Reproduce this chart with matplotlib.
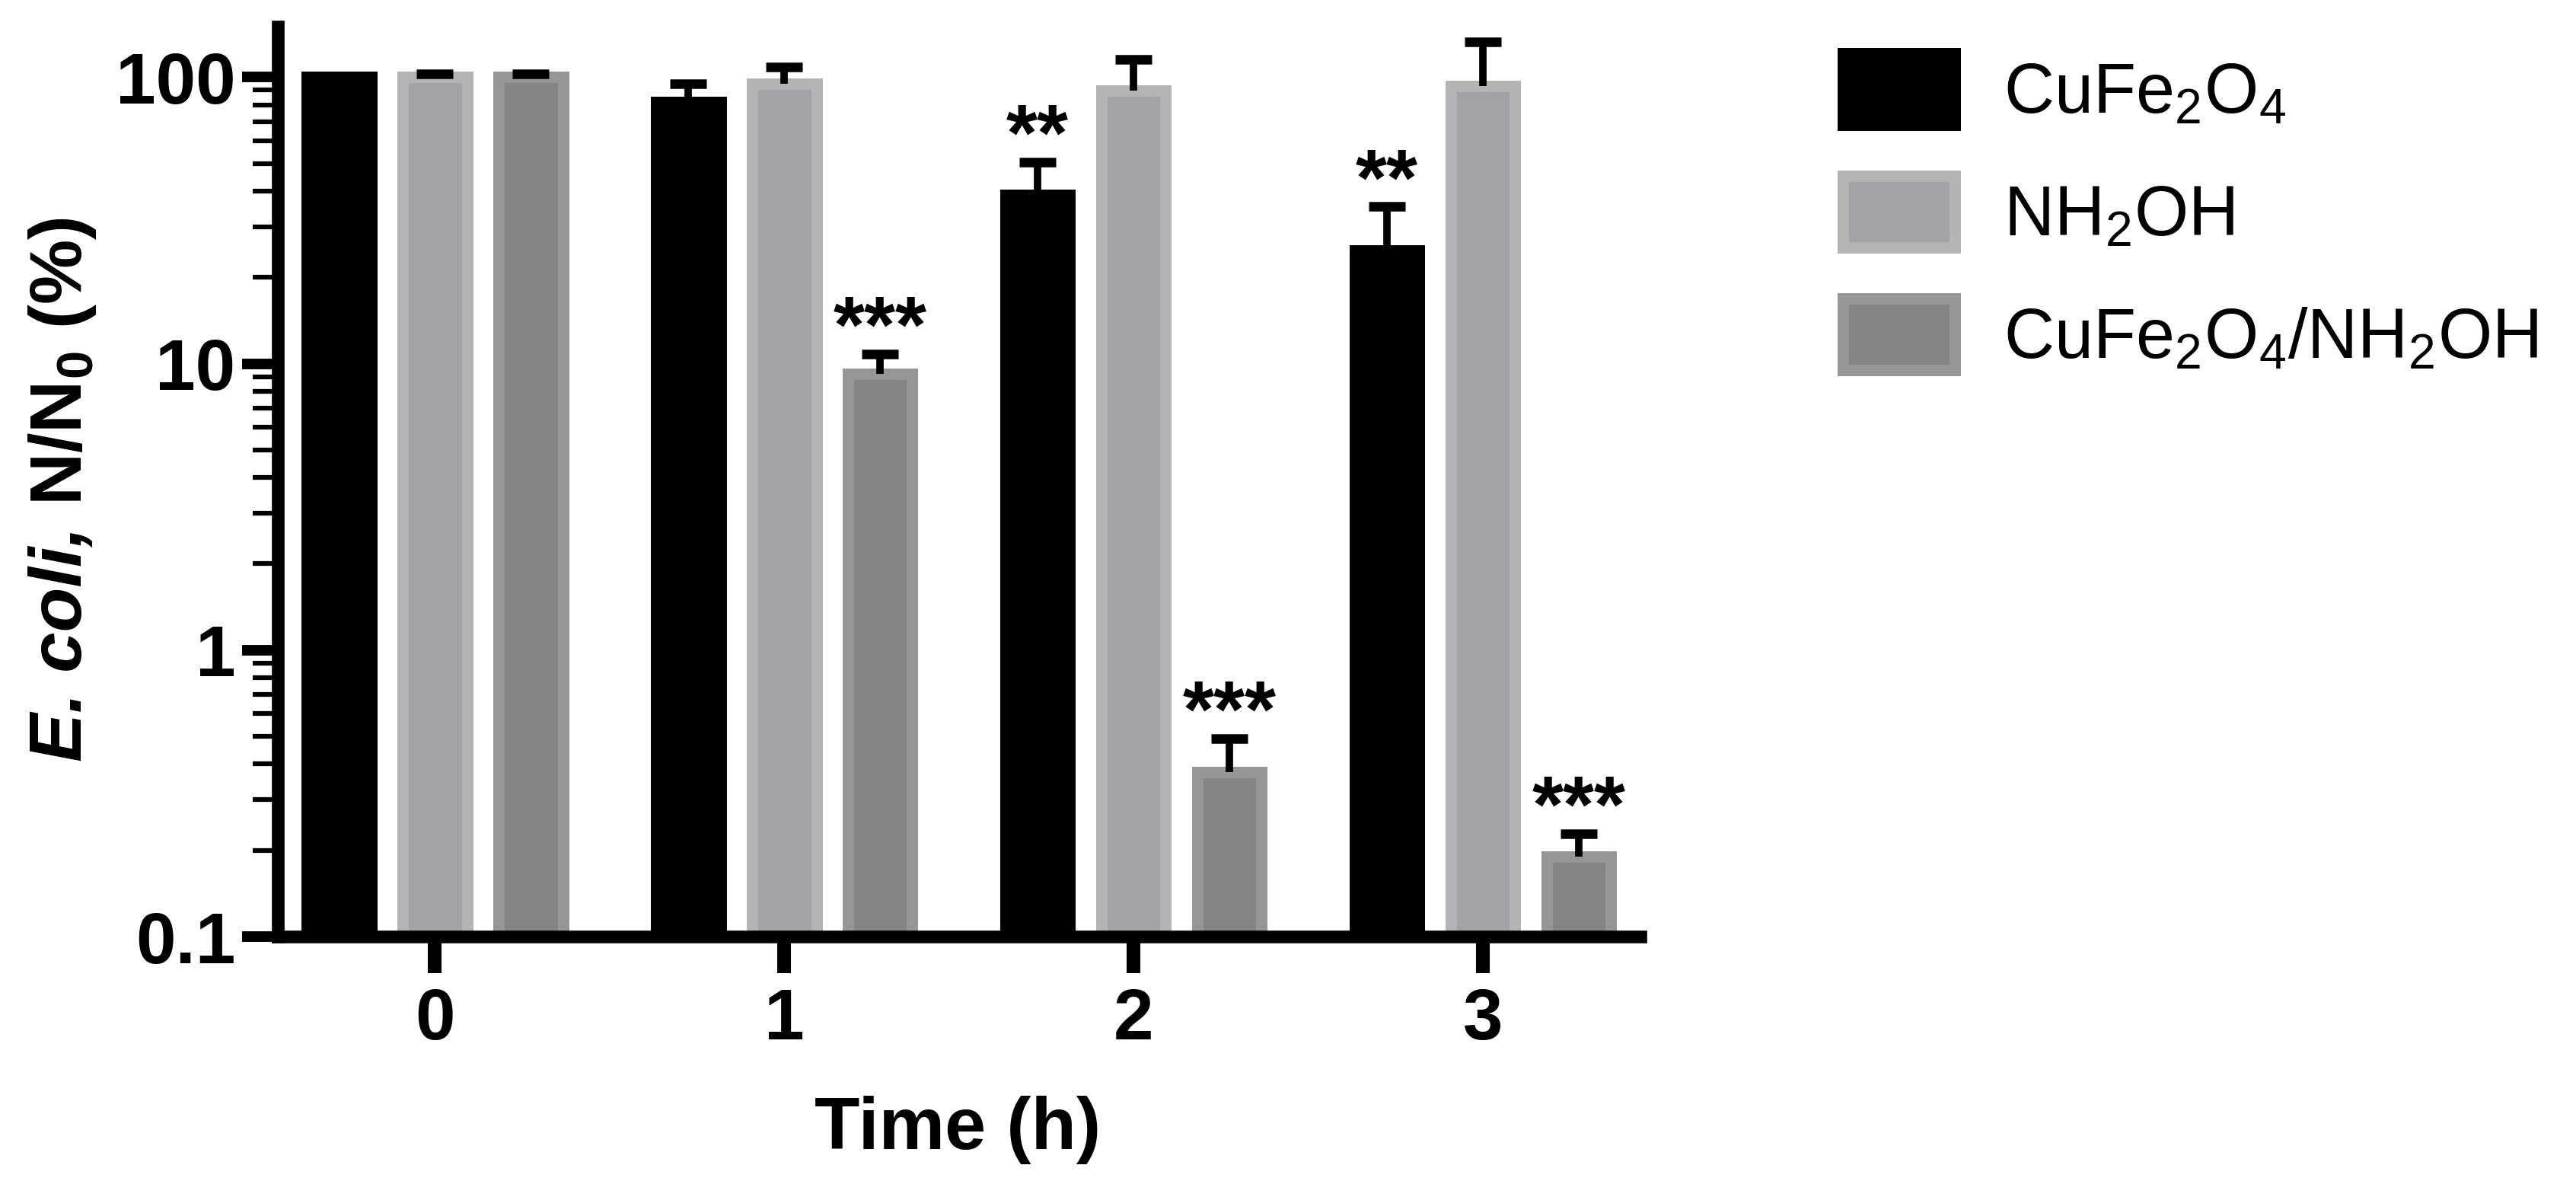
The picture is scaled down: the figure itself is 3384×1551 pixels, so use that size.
import numpy as np
import matplotlib.pyplot as plt
from matplotlib.ticker import FixedLocator, LogLocator, NullFormatter

plt.rcParams['font.family'] = ['Liberation Sans', 'DejaVu Sans']
plt.rcParams['mathtext.fontset'] = 'custom'
plt.rcParams['mathtext.rm'] = 'Liberation Sans'
plt.rcParams['mathtext.bf'] = 'Liberation Sans:bold'
plt.rcParams['mathtext.it'] = 'Liberation Sans:italic'

# data (N/N0 in %, upper error only)
times = [0, 1, 2, 3]
time_labels = ['0', '1', '2', '3']

cufe = [100, 82, 38.7, 24.8]
cufe_err = [1, 12.5, 11.8, 10.5]
nh2oh = [100, 94.5, 89.5, 93]
nh2oh_err = [2.5, 14, 25.5, 40]
combo = [100, 9.2, 0.376, 0.19]
combo_err = [2.5, 1.6, 0.114, 0.038]

cufe_sig = ['', '', '**', '**']
nh2oh_sig = ['', '', '', '']
combo_sig = ['', '***', '***', '***']

labels = [r'CuFe$_2$O$_4$', r'NH$_2$OH', r'CuFe$_2$O$_4$/NH$_2$OH']
faces = ['#000000', '#a3a2a6', '#848484']
edges = ['#000000', '#b4b4b6', '#969696']

yticks = [0.1, 1, 10, 100]
ytick_labels = ['0.1', '1', '10', '100']

series = [
    (cufe, cufe_err, cufe_sig),
    (nh2oh, nh2oh_err, nh2oh_sig),
    (combo, combo_err, combo_sig),
]

W, H = 3384, 1551
fig = plt.figure(figsize=(W / 100, H / 100), dpi=100)
ax = fig.add_axes([365 / W, 1 - 1230 / H, (2155 - 365) / W, (1230 - 35) / H])
ax.set_yscale('log')

x = np.arange(len(times))
pitch = 0.2745
width = 0.185

handles = []
for i, (vals, errs, sig) in enumerate(series):
    pos = x + (i - 1) * pitch
    bars = ax.bar(pos, vals, width, color=faces[i], edgecolor=edges[i],
                  linewidth=10.8, zorder=2)
    handles.append(bars)
    eb = ax.errorbar(pos, vals, yerr=[np.zeros(len(vals)), errs], fmt='none',
                     ecolor='black', elinewidth=7, capsize=17.5, capthick=9, zorder=3)
    # only the upper cap is drawn in the original
    for cap in eb[1]:
        if np.allclose(cap.get_ydata(), vals):
            cap.set_visible(False)
    for p, v, e, s in zip(pos, vals, errs, sig):
        if s:
            ax.text(p, (v + e) * 1.2, s, ha='center', va='center',
                    fontsize=76, fontweight='bold', zorder=4)

ax.set_xlim(-0.449, 3.451)
ax.set_ylim(0.1, 150)

ax.set_xticks(x)
ax.set_xticklabels(time_labels)
ax.yaxis.set_major_locator(FixedLocator(yticks))
ax.set_yticklabels(ytick_labels)
ax.yaxis.set_minor_locator(LogLocator(base=10, subs=np.arange(2, 10)))
ax.yaxis.set_minor_formatter(NullFormatter())

ax.tick_params(axis='y', which='major', length=34, width=10, labelsize=68, pad=6)
ax.tick_params(axis='y', which='minor', length=24, width=4.5)
ax.tick_params(axis='x', which='major', length=34.5, width=13, labelsize=68, pad=13)
for lbl in ax.get_xticklabels() + ax.get_yticklabels():
    lbl.set_fontweight('bold')

for side in ['top', 'right']:
    ax.spines[side].set_visible(False)
for side in ['left', 'bottom']:
    ax.spines[side].set_linewidth(12)
    ax.spines[side].set_capstyle('projecting')

# y label: italic species name followed by the upright part
ylab_x = 82 / W
part1 = fig.text(ylab_x, 1 - 1000 / H, 'E. coli, ', rotation=90, ha='center', va='bottom',
                 fontsize=69, fontweight='bold', fontstyle='italic')
fig.canvas.draw()
ext = part1.get_window_extent(fig.canvas.get_renderer())
fig.text(ylab_x, ext.y1 / H, r'N/N$_\mathbf{0}$ (%)', rotation=90, ha='center', va='bottom',
         fontsize=69, fontweight='bold')

fig.text(1258 / W, 1 - 1509 / H, 'Time (h)', ha='center', va='baseline',
         fontsize=70, fontweight='bold')

fig.legend(handles, labels, loc='upper left', bbox_to_anchor=(2421 / W, 1 - 70 / H),
           frameon=False, borderpad=0, borderaxespad=0, fontsize=66,
           handlelength=1.6, handleheight=1.2, handletextpad=0.7, labelspacing=0.7)

fig.savefig('out.png', dpi=100)
